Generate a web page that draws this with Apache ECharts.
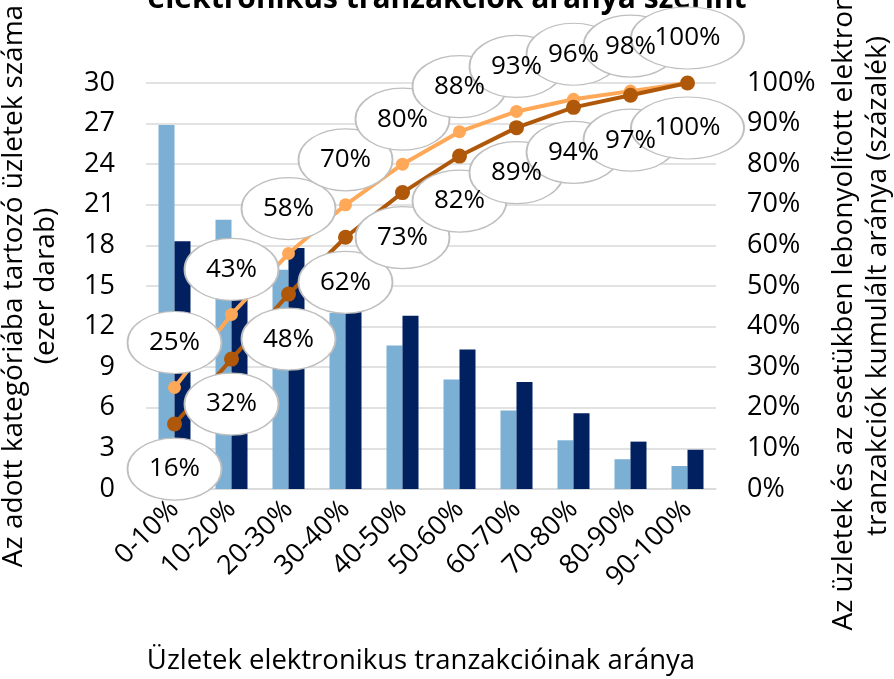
<!DOCTYPE html>
<html>
<head>
<meta charset="utf-8">
<script src="https://cdn.jsdelivr.net/npm/echarts@6/dist/echarts.min.js"></script>
<style>
  html, body { margin: 0; padding: 0; background: #fff; }
  #chart { width: 894px; height: 679px; }
</style>
</head>
<body>
<div id="chart"></div>
<script>
// kategóriák és értékek
var categories = ['0-10%', '10-20%', '20-30%', '30-40%', '40-50%', '50-60%', '60-70%', '70-80%', '80-90%', '90-100%'];
var uzletekSzama = [26.9, 19.9, 16.2, 13.0, 10.6, 8.1, 5.8, 3.6, 2.2, 1.7];
var tranzakciokSzama = [18.3, 18.3, 17.8, 16.5, 12.8, 10.3, 7.9, 5.6, 3.5, 2.9];
var uzletekKumulalt = [0.25, 0.43, 0.58, 0.70, 0.80, 0.88, 0.93, 0.96, 0.98, 1.00];
var tranzakciokKumulalt = [0.16, 0.32, 0.48, 0.62, 0.73, 0.82, 0.89, 0.94, 0.97, 1.00];
var leftTicks = [0, 30, 3];
var rightTicks = [0, 1, 0.1];

var FONT = 'Open Sans';
var ellipsePath = 'path://M0,50 A50,50 0 1,1 100,50 A50,50 0 1,1 0,50 Z';

function pct(v) { return Math.round(v * 100) + '%'; }

function calloutSeries(data, offsetY) {
    return {
        type: 'scatter',
        yAxisIndex: 1,
        data: data,
        symbol: ellipsePath,
        symbolSize: function (v) { return [pct(v).length > 3 ? 113 : 94, 62]; },
        symbolOffset: [0, offsetY],
        z: 10,
        itemStyle: { color: '#fff', borderColor: '#bfbfbf', borderWidth: 1.5, opacity: 1 },
        label: {
            show: true,
            position: 'inside',
            formatter: function (p) { return pct(p.value); },
            color: '#000',
            fontFamily: FONT,
            fontSize: 26
        },
        emphasis: { disabled: true },
        silent: true
    };
}

var chart = echarts.init(document.getElementById('chart'));
chart.setOption({
    animation: false,
    textStyle: { fontFamily: FONT },
    title: {
        text: 'elektronikus tranzakciók aránya szerint',
        left: 'center',
        top: -21,
        textStyle: { fontFamily: FONT, fontSize: 30, fontWeight: 'bold', color: '#000' }
    },
    grid: { left: 146, right: 178, top: 83, bottom: 190, outerBoundsMode: 'none', containLabel: false },
    xAxis: {
        type: 'category',
        data: categories,
        axisTick: { show: false },
        axisLine: { lineStyle: { color: '#d9d9d9', width: 1.5 } },
        axisLabel: { rotate: 45, interval: 0, margin: 16, color: '#000', fontSize: 27, fontFamily: FONT },
        name: 'Üzletek elektronikus tranzakcióinak aránya',
        nameLocation: 'middle',
        nameGap: 158,
        nameTextStyle: { color: '#000', fontSize: 27.5, fontFamily: FONT, padding: [0, 20, 0, 0] }
    },
    yAxis: [{
        type: 'value',
        min: leftTicks[0], max: leftTicks[1], interval: leftTicks[2],
        axisLine: { show: false },
        axisTick: { show: false },
        splitLine: { lineStyle: { color: '#d9d9d9', width: 1.5 } },
        axisLabel: { margin: 31, color: '#000', fontSize: 27, fontFamily: FONT },
        name: 'Az adott kategóriába tartozó üzletek száma\n(ezer darab)',
        nameLocation: 'middle',
        nameGap: 84,
        nameTextStyle: { color: '#000', fontSize: 28, lineHeight: 32, fontFamily: FONT }
    }, {
        type: 'value',
        position: 'right',
        min: rightTicks[0], max: rightTicks[1], interval: rightTicks[2],
        axisLine: { show: false },
        axisTick: { show: false },
        splitLine: { show: false },
        axisLabel: { margin: 31, color: '#000', fontSize: 27, fontFamily: FONT, formatter: pct },
        name: 'Az üzletek és az esetükben lebonyolított elektronikus\ntranzakciók kumulált aránya (százalék)',
        nameLocation: 'middle',
        nameGap: 108,
        nameTextStyle: { color: '#000', fontSize: 28, lineHeight: 34, fontFamily: FONT }
    }],
    series: [{
        name: 'Üzletek',
        type: 'bar',
        data: uzletekSzama,
        barWidth: 16,
        barGap: '0%',
        itemStyle: { color: '#7bafd4' }
    }, {
        name: 'Tranzakciók',
        type: 'bar',
        data: tranzakciokSzama,
        barWidth: 16,
        barGap: '0%',
        itemStyle: { color: '#002060' }
    }, {
        name: 'Üzletek kumulált',
        type: 'line',
        yAxisIndex: 1,
        data: uzletekKumulalt,
        symbol: 'circle',
        symbolSize: 13,
        lineStyle: { color: '#ffa858', width: 4 },
        itemStyle: { color: '#ffa858' },
        z: 5
    }, {
        name: 'Tranzakciók kumulált',
        type: 'line',
        yAxisIndex: 1,
        data: tranzakciokKumulalt,
        symbol: 'circle',
        symbolSize: 15,
        lineStyle: { color: '#b0580a', width: 4 },
        itemStyle: { color: '#b0580a' },
        z: 5
    },
    calloutSeries(uzletekKumulalt, -45),
    calloutSeries(tranzakciokKumulalt, 45)]
});
</script>
</body>
</html>
